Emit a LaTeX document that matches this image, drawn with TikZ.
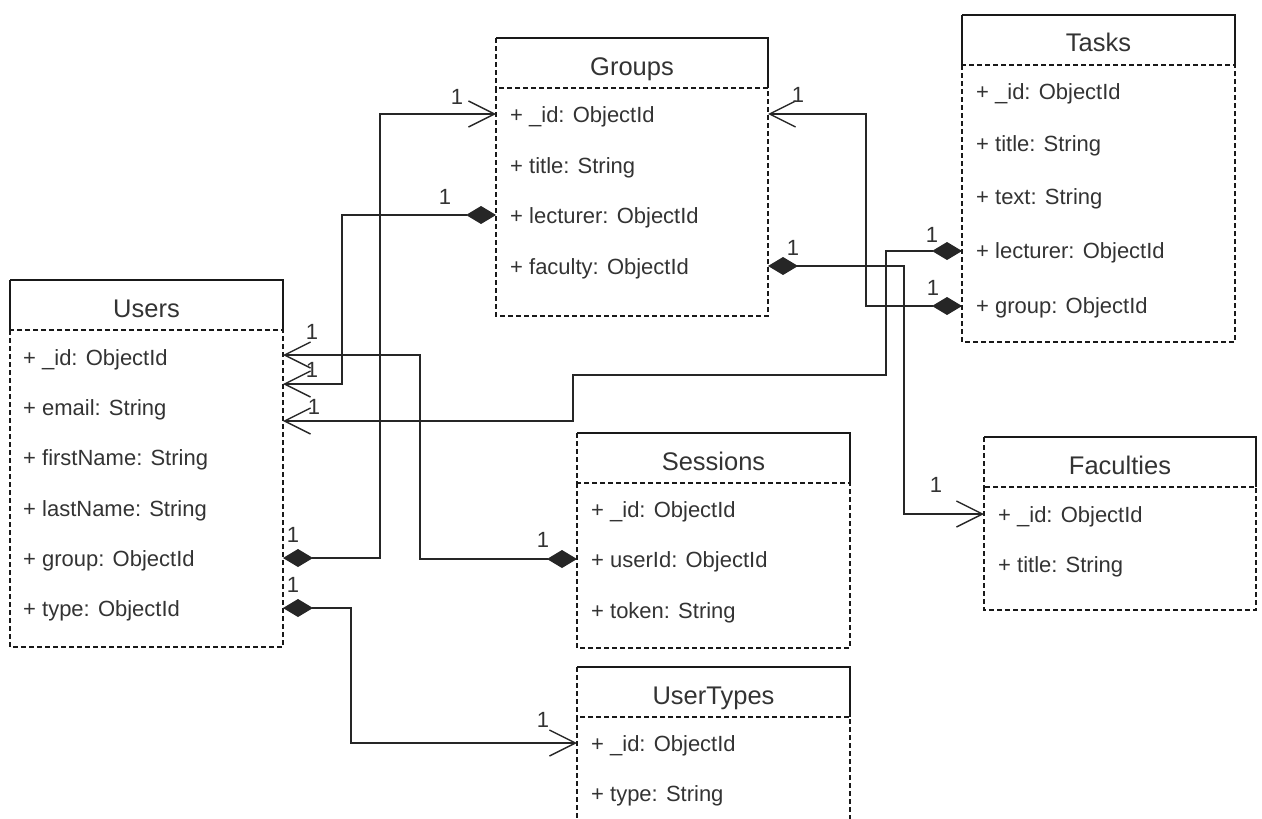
\documentclass[tikz,border=0pt]{standalone}
\usepackage{fontspec}
\setmainfont{Liberation Sans}
\usetikzlibrary{arrows.meta}
\tikzset{
  boxline/.style={line width=1.3pt, draw=black!90},
  dashedline/.style={boxline, dash pattern=on 5pt off 3pt},
  rowtext/.style={anchor=base west, inner sep=0pt, font=\fontsize{22}{26}\selectfont, text=black!80},
  titletext/.style={anchor=base, inner sep=0pt, font=\fontsize{25.5}{30}\selectfont, text=black!80},
  mult/.style={anchor=center, inner sep=0pt, font=\fontsize{22}{26}\selectfont, text=black!80},
  conn/.style={line width=1.4pt, draw=black!85},
  openend/.tip={Straight Barb[length=26pt,width=26pt]},
  diam/.tip={Diamond[length=30pt,width=18pt]},
}
\newcommand{\entbox}[5]{%
  \draw[dashedline] (#1,#4) rectangle (#3,#5);
  \draw[dashedline] (#1,#2) -- (#1,#4);
  \draw[boxline] (#1,#2) -- (#3,#2) -- (#3,#4);
}
\begin{document}
\begin{tikzpicture}[x=1pt,y=-1pt]
\useasboundingbox (0,0) rectangle (1262,819);
\clip (0,0) rectangle (1262,819);

% ---------- Groups ----------
\entbox{496}{38}{768}{88}{316}
\node[titletext] (GT) at (632,75) {Groups};
\node[rowtext] (G1) at (510,122.5) {+ \_id: ObjectId};
\node[rowtext] (G2) at (510,173.5) {+ title: String};
\node[rowtext] (G3) at (510,223.5) {+ lecturer: ObjectId};
\node[rowtext] (G4) at (510,274.5) {+ faculty: ObjectId};

% ---------- Tasks ----------
\entbox{962}{15}{1235}{65}{342}
\draw[boxline] (962,15) -- (962,65);
\node[titletext] (TT) at (1098.5,51) {Tasks};
\node[rowtext] (T1) at (976,99.5) {+ \_id: ObjectId};
\node[rowtext] (T2) at (976,151.5) {+ title: String};
\node[rowtext] (T3) at (976,204.5) {+ text: String};
\node[rowtext] (T4) at (976,258.5) {+ lecturer: ObjectId};
\node[rowtext] (T5) at (976,313.5) {+ group: ObjectId};

% ---------- Users ----------
\entbox{10}{280}{283}{330}{647}
\draw[boxline] (10,280) -- (10,330);
\node[titletext] (UT) at (146.5,317) {Users};
\node[rowtext] (U1) at (23,365.5) {+ \_id: ObjectId};
\node[rowtext] (U2) at (23,415.5) {+ email: String};
\node[rowtext] (U3) at (23,465.5) {+ firstName: String};
\node[rowtext] (U4) at (23,516.5) {+ lastName: String};
\node[rowtext] (U5) at (23,566.5) {+ group: ObjectId};
\node[rowtext] (U6) at (23,616.5) {+ type: ObjectId};

% ---------- Sessions ----------
\entbox{577}{433}{850}{483}{648}
\node[titletext] (ST) at (713.5,470) {Sessions};
\node[rowtext] (S1) at (591,517.5) {+ \_id: ObjectId};
\node[rowtext] (S2) at (591,567.5) {+ userId: ObjectId};
\node[rowtext] (S3) at (591,618.5) {+ token: String};

% ---------- Faculties ----------
\entbox{984}{437}{1256}{487}{610}
\node[titletext] (FT) at (1120,474) {Faculties};
\node[rowtext] (F1) at (998,522.5) {+ \_id: ObjectId};
\node[rowtext] (F2) at (998,572.5) {+ title: String};

% ---------- UserTypes ----------
\entbox{577}{667}{850}{717}{840}
\node[titletext] (YT) at (713.5,704) {UserTypes};
\node[rowtext] (Y1) at (591,751.5) {+ \_id: ObjectId};
\node[rowtext] (Y2) at (591,801.5) {+ type: String};

% ---------- connector end points ----------
\coordinate (Gid-w) at (496,114);
\coordinate (Gid-e) at (768,114);
\coordinate (Glec-w) at (496,215);
\coordinate (Gfac-e) at (768,266);
\coordinate (Tlec-w) at (962,251);
\coordinate (Tgrp-w) at (962,306);
\coordinate (Ua1) at (283,355);
\coordinate (Ua2) at (283,384);
\coordinate (Ua3) at (283,421);
\coordinate (Ugrp-e) at (283,558);
\coordinate (Utype-e) at (283,608);
\coordinate (Suid-w) at (577,559);
\coordinate (Fid-w) at (984,514);
\coordinate (UTid-w) at (577,743);
% bend guides
\coordinate (B1) at (380,0);
\coordinate (B2) at (342,0);
\coordinate (B3) at (420,0);
\coordinate (B4) at (351,0);
\coordinate (B5) at (866,0);
\coordinate (B6) at (904,0);
\coordinate (B7) at (886,375);
\coordinate (B8) at (573,375);

% ---------- connectors ----------
\draw[conn, diam-openend] (Ugrp-e) -- (Ugrp-e -| B1) |- (Gid-w);
\draw[conn, diam-openend] (Glec-w) -- (Glec-w -| B2) |- (Ua2);
\draw[conn, diam-openend] (Suid-w) -- (Suid-w -| B3) |- (Ua1);
\draw[conn, diam-openend] (Utype-e) -- (Utype-e -| B4) |- (UTid-w);
\draw[conn, diam-openend] (Tgrp-w) -- (Tgrp-w -| B5) |- (Gid-e);
\draw[conn, diam-openend] (Gfac-e) -- (Gfac-e -| B6) |- (Fid-w);
\draw[conn, diam-openend] (Tlec-w) -- (Tlec-w -| B7) -- (B7) -- (B8) -- (B8 |- Ua3) -- (Ua3);

% ---------- multiplicities ----------
\node[mult] (m1) at (457,97) {1};
\node[mult] (m2) at (445,197) {1};
\node[mult] (m3) at (798,95) {1};
\node[mult] (m4) at (793,248) {1};
\node[mult] (m5) at (932,235) {1};
\node[mult] (m6) at (933,288) {1};
\node[mult] (m7) at (312,332) {1};
\node[mult] (m8) at (312,370) {1};
\node[mult] (m9) at (314,407) {1};
\node[mult] (m10) at (293,535) {1};
\node[mult] (m11) at (293,585) {1};
\node[mult] (m12) at (543,540) {1};
\node[mult] (m13) at (936,485) {1};
\node[mult] (m14) at (543,720) {1};
\end{tikzpicture}
\end{document}
